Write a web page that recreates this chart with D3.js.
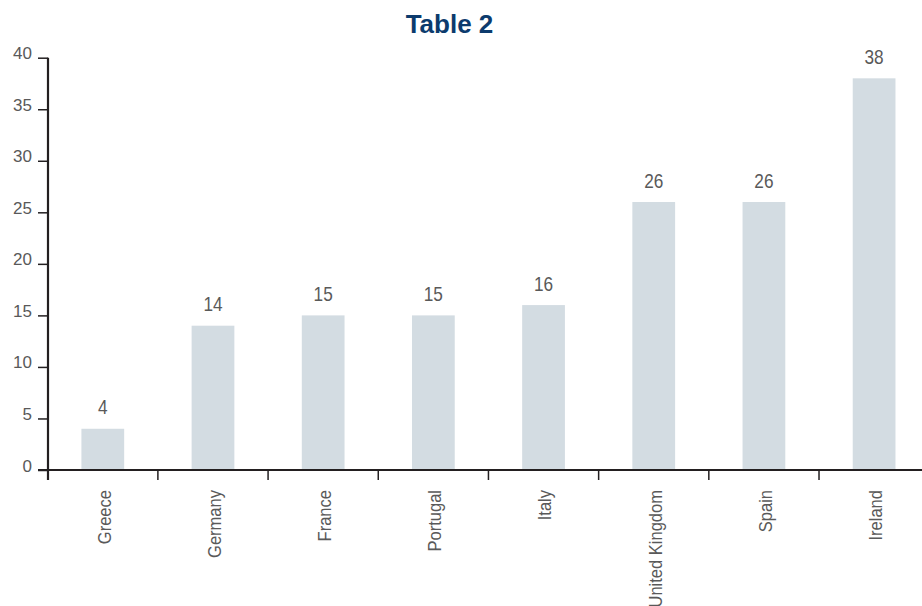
<!DOCTYPE html>
<html>
<head>
<meta charset="utf-8">
<script src="https://cdn.jsdelivr.net/npm/d3@7"></script>
<style>
  html, body { margin: 0; padding: 0; background: #fff; }
  svg { display: block; }
</style>
</head>
<body>
<svg id="chart" width="922" height="606"></svg>
<script>
// Chart data
const categories = ["Greece", "Germany", "France", "Portugal", "Italy", "United Kingdom", "Spain", "Ireland"];
const values = [4, 14, 15, 15, 16, 26, 26, 38];
const yTicks = [0, 5, 10, 15, 20, 25, 30, 35, 40];
const title = "Table 2";

const svg = d3.select("#chart");
const W = 922, H = 606;

const font = "'Liberation Sans', Arial, Helvetica, sans-serif";
const valueSqueeze = 0.82;    // horizontal condensing for value labels
const categorySqueeze = 0.87; // horizontal condensing for category labels
const textColor = "#595959";
const axisColor = "#231f20";

// Scales
const x = d3.scaleBand().domain(categories).range([47.7, 929.2]).paddingInner(0).paddingOuter(0);
const y = d3.scaleLinear().domain([0, 40]).range([470, 57.7]);
const barW = x.bandwidth() * 0.388;
const cx = c => x(c) + x.bandwidth() / 2;

// Title
svg.append("text")
  .attr("x", 449.5).attr("y", 32.7)
  .attr("text-anchor", "middle")
  .attr("font-family", font)
  .attr("font-weight", "bold")
  .attr("font-size", 26)
  .attr("fill", "#0c3b6d")
  .text(title);

// Bars
svg.append("g").selectAll("rect")
  .data(values)
  .join("rect")
  .attr("x", (d, i) => cx(categories[i]) - barW / 2)
  .attr("y", d => y(d))
  .attr("width", barW)
  .attr("height", d => y(0) - y(d))
  .attr("fill", "#d3dce2");

// Value labels
svg.append("g").selectAll("text")
  .data(values)
  .join("text")
  .attr("transform", (d, i) => `translate(${cx(categories[i])},${y(d) - 14.5}) scale(${valueSqueeze},1)`)
  .attr("text-anchor", "middle")
  .attr("font-family", font)
  .attr("font-size", 21)
  .attr("fill", textColor)
  .text(d => d);

// Y axis: ticks on the left, labels sit on the tick line
const yAxis = d3.axisLeft(y).tickValues(yTicks).tickSize(10).tickSizeOuter(0).tickPadding(6);
const gy = svg.append("g").attr("transform", "translate(48,0)").call(yAxis);
gy.select(".domain").remove();
gy.selectAll(".tick line").attr("stroke", axisColor).attr("stroke-width", 1.5);
gy.selectAll(".tick text")
  .attr("dy", "1px")
  .attr("font-family", font)
  .attr("font-size", 17)
  .attr("fill", textColor);
svg.append("line")
  .attr("x1", 48).attr("x2", 48)
  .attr("y1", y(40)).attr("y2", 480)
  .attr("stroke", axisColor).attr("stroke-width", 2.2);

// X axis baseline
svg.append("line")
  .attr("x1", 38).attr("x2", W)
  .attr("y1", y(0)).attr("y2", y(0))
  .attr("stroke", axisColor).attr("stroke-width", 2.2);

// Category separators below the baseline
svg.append("g").selectAll("line")
  .data(categories.slice(1))
  .join("line")
  .attr("x1", d => x(d)).attr("x2", d => x(d))
  .attr("y1", y(0)).attr("y2", 480)
  .attr("stroke", axisColor).attr("stroke-width", 1.5);

// Category labels, rotated and condensed along the text direction
svg.append("g").selectAll("text")
  .data(categories)
  .join("text")
  .attr("transform", d => `translate(${cx(d) + 1},490) rotate(-90) scale(${categorySqueeze},1)`)
  .attr("text-anchor", "end")
  .attr("dy", "0.36em")
  .attr("font-family", font)
  .attr("font-size", 19)
  .attr("fill", textColor)
  .text(d => d);
</script>
</body>
</html>
